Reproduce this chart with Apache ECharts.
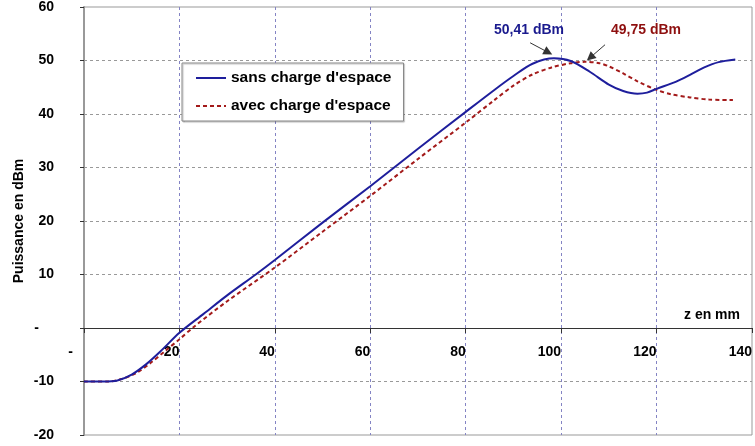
<!DOCTYPE html>
<html>
<head>
<meta charset="utf-8">
<script src="https://cdn.jsdelivr.net/npm/echarts@6/dist/echarts.min.js"></script>
<style>
  html, body { margin: 0; padding: 0; background: #fff; }
  #chart { width: 755px; height: 446px; }
</style>
</head>
<body>
<div id="chart"></div>
<script>
// Position along the tube (mm) and output power (dBm)
const zSans = [0, 4, 7, 10, 13, 16, 20, 25, 30, 36, 40, 50, 60, 70, 80, 86, 90, 94, 98.5, 102, 106, 110, 113, 116, 118, 120, 124, 127, 130, 133, 136.5];
const pSans = [-10, -10, -9.8, -8.7, -6.8, -4.4, -0.9, 2.6, 6.1, 10, 12.7, 19.7, 26.5, 33.5, 40.4, 44.5, 47.1, 49.4, 50.41, 49.9, 47.9, 45.5, 44.3, 43.8, 44.0, 44.7, 46.0, 47.3, 48.7, 49.7, 50.2];

const zAvec = [0, 5, 8, 11, 14, 17, 20, 23, 30, 40, 50, 60, 70, 80, 86, 90, 94, 98, 102, 105, 108, 110, 113, 116, 120, 123, 127, 131, 136];
const pAvec = [-10, -10, -9.5, -8.4, -6.5, -4.3, -2.1, 0.2, 5.0, 11.3, 18.0, 24.7, 31.6, 38.4, 42.6, 45.3, 47.4, 48.7, 49.5, 49.75, 49.5, 48.9, 47.6, 46.1, 44.5, 43.7, 43.1, 42.7, 42.6];

const seriesNames = ["sans charge d'espace", "avec charge d'espace"];
const xTicks = [0, 20, 40, 60, 80, 100, 120, 140];
const yTicks = [-20, -10, 0, 10, 20, 30, 40, 50, 60];

const BLUE = '#1e1e9c';
const RED = '#a31a1a';

const W = 755, H = 446;
const GRID = { left: 84, right: 3, top: 7, bottom: 11 };

function pairs(xs, ys) { return xs.map((x, i) => [x, ys[i]]); }
function peakOf(xs, ys) {
  let k = 0;
  ys.forEach((v, i) => { if (v > ys[k]) k = i; });
  return [xs[k], ys[k]];
}
const peakSans = peakOf(zSans, pSans);
const peakAvec = peakOf(zAvec, pAvec);
const fmt = v => v.toFixed(2).replace('.', ',') + ' dBm';

// Shift the horizontal axis (line, ticks, labels) up to the 0 dBm level
const yMin = yTicks[0], yMax = yTicks[yTicks.length - 1];
const plotH = H - GRID.top - GRID.bottom;
const zeroShift = -plotH * (0 - yMin) / (yMax - yMin);

const font = { fontFamily: 'Liberation Sans, Arial, sans-serif', fontWeight: 'bold', color: '#000' };

// Callout arrow from the label toward a peak (offsets in axis units)
function arrow(peak, from, to) {
  return [[
    { coord: [peak[0] + from[0], peak[1] + from[1]], symbol: 'none' },
    { coord: [peak[0] + to[0], peak[1] + to[1]], symbol: 'triangle' }
  ]];
}

const chart = echarts.init(document.getElementById('chart'), null, { renderer: 'canvas' });
chart.setOption({
  animation: false,
  backgroundColor: '#fff',
  grid: Object.assign({ show: true, borderColor: '#999', borderWidth: 1, containLabel: false, outerBoundsMode: 'none' }, GRID),
  xAxis: {
    type: 'value', min: xTicks[0], max: xTicks[xTicks.length - 1], interval: 20,
    offset: zeroShift,
    name: 'z en mm', nameLocation: 'end', nameGap: -12,
    nameTextStyle: Object.assign({}, font, { fontSize: 14, align: 'right', verticalAlign: 'bottom', padding: [0, 0, 6, 0] }),
    axisLine: { onZero: false, lineStyle: { color: '#333', width: 1 } },
    axisTick: { show: true, length: 5, lineStyle: { color: '#333' } },
    axisLabel: Object.assign({}, font, {
      fontSize: 14, margin: 17, align: 'right',
      formatter: v => v === 0 ? '{d|-}' : String(v),
      rich: { d: Object.assign({}, font, { fontSize: 14, padding: [0, 11, 0, 0] }) }
    }),
    splitLine: { show: true, showMinLine: false, showMaxLine: false, lineStyle: { color: '#8484c4', type: [3, 3], width: 1 } }
  },
  yAxis: {
    type: 'value', min: yMin, max: yMax, interval: 10,
    name: 'Puissance en dBm', nameLocation: 'middle', nameGap: 58, nameRotate: 90,
    nameMoveOverlap: false,
    nameTextStyle: Object.assign({}, font, { fontSize: 14 }),
    axisLine: { show: true, onZero: false, lineStyle: { color: '#999', width: 2 } },
    axisTick: { show: true, length: 4, lineStyle: { color: '#333' } },
    axisLabel: Object.assign({}, font, {
      fontSize: 14, margin: 30,
      formatter: v => v === 0 ? '{d|-}' : String(v),
      rich: { d: Object.assign({}, font, { fontSize: 14, padding: [0, 15, 0, 0] }) }
    }),
    splitLine: { show: true, showMinLine: false, showMaxLine: false, lineStyle: { color: '#999', type: [3, 3], width: 1 } }
  },
  legend: {
    orient: 'vertical', left: 182, top: 63,
    padding: [7, 12, 7, 13], itemGap: 12, itemWidth: 30, itemHeight: 14,
    backgroundColor: '#fff', borderColor: '#888', borderWidth: 1,
    shadowColor: 'rgba(0,0,0,0.25)', shadowOffsetX: 1, shadowOffsetY: 1, shadowBlur: 1,
    itemStyle: { opacity: 0 },
    textStyle: Object.assign({}, font, { fontSize: 15.5 }),
    data: seriesNames
  },
  series: [
    {
      name: seriesNames[0], type: 'line', data: pairs(zSans, pSans),
      symbol: 'none', smooth: 0.3,
      lineStyle: { color: BLUE, width: 2 }, itemStyle: { color: BLUE }, z: 3,
      markPoint: {
        symbol: 'circle', symbolSize: 0, silent: true,
        label: { show: true, offset: [-25, -28], formatter: p => fmt(p.value), fontFamily: font.fontFamily, fontWeight: 'bold', fontSize: 14, color: '#1a1a8e' },
        data: [{ coord: peakSans, value: peakSans[1] }]
      },
      markLine: {
        silent: true, symbolSize: [9, 9], label: { show: false },
        lineStyle: { color: '#333', width: 1, type: 'solid' },
        data: arrow(peakSans, [-5.0, 2.9], [-1.2, 1.1])
      }
    },
    {
      name: seriesNames[1], type: 'line', data: pairs(zAvec, pAvec),
      symbol: 'none', smooth: 0.3,
      lineStyle: { color: RED, width: 2, type: [4, 3] }, itemStyle: { color: RED }, z: 2,
      markPoint: {
        symbol: 'circle', symbolSize: 0, silent: true,
        label: { show: true, offset: [61, -32], formatter: p => fmt(p.value), fontFamily: font.fontFamily, fontWeight: 'bold', fontSize: 14, color: '#8e0f0f' },
        data: [{ coord: peakAvec, value: peakAvec[1] }]
      },
      markLine: {
        silent: true, symbolSize: [9, 9], label: { show: false },
        lineStyle: { color: '#333', width: 1, type: 'solid' },
        data: arrow(peakAvec, [4.2, 3.2], [1.1, 0.8])
      }
    }
  ]
});
</script>
</body>
</html>
